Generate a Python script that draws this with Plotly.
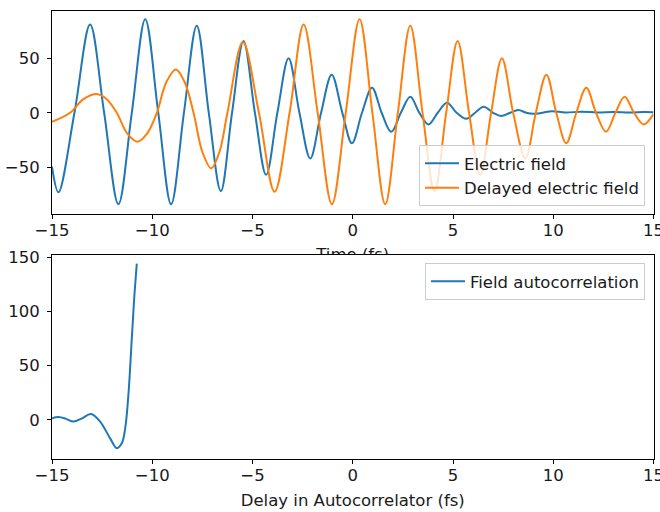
import plotly.graph_objects as go

# ---------------- data ----------------
time_field = [-15.0, -14.68, -13.88, -13.10, -12.40, -11.69, -11.02, -10.35, -9.70, -9.06,
              -8.42, -7.78, -7.18, -6.58, -6.02, -5.45, -4.88, -4.32, -3.76, -3.20,
              -2.66, -2.12, -1.58, -1.05, -0.52, -0.04, 0.46, 0.96, 1.44, 1.92,
              2.40, 2.87, 3.32, 3.78, 4.24, 4.70, 5.18, 5.66, 6.10, 6.53,
              7.00, 7.40, 7.85, 8.26, 8.65, 9.00, 9.45, 9.94, 10.6, 11.4,
              12.2, 13.0, 13.8, 14.5, 15.0]
electric_field = [-49.5, -73, 0, 81, 0, -84, 0, 86, 0, -84,
                  0, 80, 0, -72, 0, 66, 0, -57, 0, 50,
                  0, -42, 0, 35, 0, -28, 0, 23, 0, -17.5,
                  0, 14.7, 0, -10.7, 0, 9.2, 0, -5.5, 0, 5.5,
                  0, -3, 0, 2.5, 0, -1, 0, 1.5, 0.2, 1.0,
                  0.2, 0.8, 0.3, 0.6, 0.5]

time_delayed = [-15.0, -14.1, -13.43, -12.77, -12.27, -11.77, -11.25, -10.74, -10.25, -9.77,
                -9.30, -8.82, -8.38, -7.94, -7.50, -7.06, -6.65, -6.25,
                -5.48, -4.68, -3.90, -3.15, -2.45, -1.75, -1.04, -0.35, 0.34, 0.98,
                1.62, 2.25, 2.87, 3.48, 4.08, 4.66, 5.23, 5.80, 6.36, 6.90,
                7.44, 8.00, 8.61, 9.13, 9.66, 10.15, 10.65, 11.15, 11.65, 12.13,
                12.63, 13.10, 13.56, 14.03, 14.51, 15.0]
delayed_field = [-8.3, 0, 12.5, 17.2, 12.5, 0, -19, -26.6, -19, 0,
                 28, 39.8, 28, 0, -36, -51, -36, 0,
                 65, 0, -72.5, 0, 81, 0, -84, 0, 86, 0,
                 -84, 0, 80, 0, -72, 0, 66, 0, -57, 0,
                 50, 0, -42, 0, 35, 0, -28, 0, 23, 0,
                 -17.5, 0, 14.7, 0, -10.7, -1]

delay = [-15.0, -14.68, -14.3, -13.93, -13.5, -13.06, -12.6, -12.1, -11.77, -11.52,
         -11.35, -11.19, -11.02, -10.9, -10.77]
autocorrelation = [1.6, 2.8, 1.0, -1.5, 1.5, 5.5, -1.5, -17, -26, -21.5,
                   -7.7, 23, 75, 112, 144]

x_ticks = [-15, -10, -5, 0, 5, 10, 15]
top_y_ticks = [-50, 0, 50]
bottom_y_ticks = [0, 50, 100, 150]

# ---------------- layout helpers ----------------
W, H = 660, 512
def fx(px):
    return px / W
def fy(py):
    return 1 - py / H

FONT = dict(family="DejaVu Sans", size=16.5, color="#1a1a1a")
BLUE = "#1f77b4"
ORANGE = "#ff7f0e"

def axis(**kw):
    d = dict(showline=True, linecolor="black", linewidth=1, mirror=True,
             ticks="outside", ticklen=4, tickwidth=1, tickcolor="black",
             showgrid=False, zeroline=False, tickfont=FONT,
             ticklabeloverflow="allow", automargin=False)
    d.update(kw)
    return d

fig = go.Figure()
fig.add_trace(go.Scatter(x=time_field, y=electric_field, mode="lines",
                         name="Electric field", legendgroup="a",
                         line=dict(color=BLUE, width=2, shape="spline", smoothing=1.0),
                         xaxis="x", yaxis="y", legend="legend"))
fig.add_trace(go.Scatter(x=time_delayed, y=delayed_field, mode="lines",
                         name="Delayed electric field", legendgroup="b",
                         line=dict(color=ORANGE, width=2, shape="spline", smoothing=1.0),
                         xaxis="x", yaxis="y", legend="legend"))
fig.add_trace(go.Scatter(x=delay, y=autocorrelation, mode="lines",
                         name="Field autocorrelation",
                         line=dict(color=BLUE, width=2, shape="spline", smoothing=1.0),
                         xaxis="x2", yaxis="y2", legend="legend2"))
# partially hidden "Time (fs)" label, clipped by a thin helper subplot
fig.add_trace(go.Scatter(x=[0], y=[-0.1], mode="text", text=["Time (fs)"],
                         textposition="middle center", textfont=FONT,
                         cliponaxis=True, showlegend=False, hoverinfo="skip",
                         xaxis="x3", yaxis="y3"))

fig.update_layout(
    width=W, height=H, autosize=False,
    template="none",
    margin=dict(l=0, r=0, t=0, b=0, pad=0),
    paper_bgcolor="white", plot_bgcolor="white",
    font=FONT,
    xaxis=axis(domain=[fx(52), fx(653.5)], range=[-15, 15], tickvals=x_ticks, anchor="y",
               ticklabelstandoff=-3),
    yaxis=axis(domain=[fy(214), fy(11)], range=[-93, 93.5], tickvals=top_y_ticks, anchor="x",
               ticklabelstandoff=4),
    xaxis2=axis(domain=[fx(52), fx(653.5)], range=[-15, 15], tickvals=x_ticks, anchor="y2",
                ticklabelstandoff=-3,
                title=dict(text="Delay in Autocorrelator (fs)", font=FONT, standoff=10)),
    yaxis2=axis(domain=[fy(459), fy(255)], range=[-36, 152], tickvals=bottom_y_ticks, anchor="x2",
                ticklabelstandoff=4),
    xaxis3=dict(domain=[fx(52), fx(653.5)], range=[-15, 15], visible=False, anchor="y3"),
    yaxis3=dict(domain=[fy(254.5), fy(238)], range=[0, 1], visible=False, anchor="x3"),
    legend=dict(x=fx(645), y=fy(206), xanchor="right", yanchor="bottom",
                bgcolor="rgba(255,255,255,0.8)", bordercolor="#cccccc", borderwidth=1,
                font=FONT, traceorder="grouped", tracegroupgap=0, itemwidth=34),
    legend2=dict(x=fx(645), y=fy(263), xanchor="right", yanchor="top",
                 bgcolor="rgba(255,255,255,0.8)", bordercolor="#cccccc", borderwidth=1,
                 font=FONT, itemwidth=34),
    showlegend=True,
)

fig.write_html("out.html")
